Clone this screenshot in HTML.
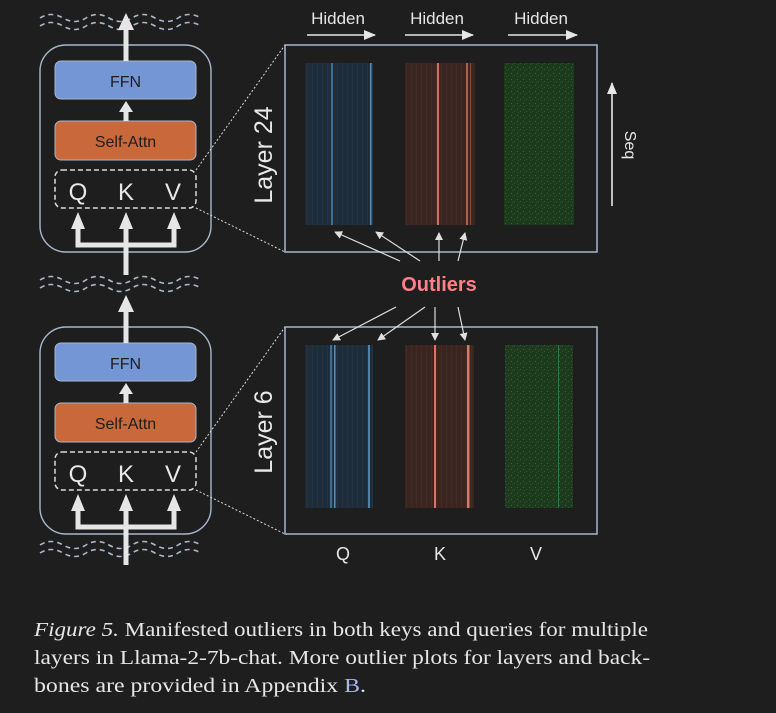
<!DOCTYPE html>
<html><head><meta charset="utf-8"><style>
html,body{margin:0;padding:0;background:#1e1e1e;}
svg{display:block}
.cap{font-family:"Liberation Serif",serif;font-size:20px;fill:#e6e6e6}
</style></head><body>
<svg width="776" height="713" viewBox="0 0 776 713" xmlns="http://www.w3.org/2000/svg" font-family="'Liberation Sans', sans-serif">
<defs>
<marker id="ah" markerWidth="8" markerHeight="8" refX="7" refY="4" orient="auto" markerUnits="userSpaceOnUse"><path d="M0,0 L8,4 L0,8 z" fill="#e0e0e0"/></marker>
<marker id="ah2" markerWidth="12" markerHeight="10" refX="11" refY="5" orient="auto" markerUnits="userSpaceOnUse"><path d="M0,0 L12,5 L0,10 z" fill="#e6e6e6"/></marker>
<pattern id="noiseG" width="6" height="6" patternUnits="userSpaceOnUse"><rect width="6" height="6" fill="#1d3a1f"/><rect x="1" y="1" width="1" height="1" fill="#2f6a33"/><rect x="4" y="3" width="1" height="1" fill="#2a5e2d"/><rect x="2" y="4" width="1" height="1" fill="#255428"/></pattern>
<pattern id="noiseB" width="5" height="7" patternUnits="userSpaceOnUse"><rect width="5" height="7" fill="#1f2d3a"/><rect x="2" y="0" width="1" height="7" fill="#223342"/></pattern>
<pattern id="noiseR" width="5" height="7" patternUnits="userSpaceOnUse"><rect width="5" height="7" fill="#3a2521"/><rect x="1" y="0" width="1" height="7" fill="#432a24"/></pattern>
<g id="wave" fill="none" stroke="#aab8cc" stroke-width="1.6" stroke-dasharray="5,4">
<path d="M40,8 q11,-7 23,0 t23,0 t23,0 t23,0 t23,0 t23,0 t23,0"/>
<path d="M40,16 q11,-7 23,0 t23,0 t23,0 t23,0 t23,0 t23,0 t23,0"/>
</g>
<g id="block">
<rect x="40" y="0" width="171" height="207" rx="26" fill="none" stroke="#a9b7cc" stroke-width="1.4"/>
<rect x="55" y="16" width="141" height="38" rx="6" fill="#7596d4" stroke="#a9b7cc" stroke-width="1"/>
<text x="125.5" y="42" text-anchor="middle" font-size="16" fill="#1e1e1e">FFN</text>
<rect x="55" y="76" width="141" height="39" rx="6" fill="#c8683b" stroke="#a9b7cc" stroke-width="1"/>
<text x="125.5" y="102" text-anchor="middle" font-size="16" fill="#1e1e1e">Self-Attn</text>
<rect x="55" y="125" width="141" height="38" rx="7" fill="none" stroke="#dcdcdc" stroke-width="1.5" stroke-dasharray="5,3"/>
<text x="78" y="155" text-anchor="middle" font-size="24" fill="#e8e8e8">Q</text>
<text x="126" y="155" text-anchor="middle" font-size="24" fill="#e8e8e8">K</text>
<text x="173" y="155" text-anchor="middle" font-size="24" fill="#e8e8e8">V</text>
<path d="M126,76 V65" stroke="#e6e6e6" stroke-width="5" fill="none"/>
<path d="M119,67 L126,56 L133,67 z" fill="#e6e6e6"/>
<path d="M78,183 V200 H174 V183 M126,183 V230" stroke="#e6e6e6" stroke-width="5" fill="none"/>
<path d="M71,184 L78,167 L85,184 z M119,184 L126,167 L133,184 z M167,184 L174,167 L181,184 z" fill="#e6e6e6"/>
</g>
</defs>

<use href="#wave" y="10"/>
<use href="#wave" y="272"/>
<use href="#wave" y="537"/>

<use href="#block" y="45"/>
<use href="#block" y="327"/>
<path d="M126,61 V28" stroke="#e6e6e6" stroke-width="5"/>
<path d="M118,30 L126,13 L134,30 z" fill="#e6e6e6"/>
<path d="M126,343 V310" stroke="#e6e6e6" stroke-width="5"/>
<path d="M118,312 L126,295 L134,312 z" fill="#e6e6e6"/>
<path d="M126,552 V565" stroke="#e6e6e6" stroke-width="5"/>

<g stroke="#dcdcdc" stroke-width="1" stroke-dasharray="2,2" fill="none">
<path d="M196,170 L285,45 M196,208 L285,252"/>
<path d="M196,452 L285,327 M196,490 L285,534"/>
</g>

<rect x="285" y="45" width="312" height="207" fill="none" stroke="#a9b7cc" stroke-width="1.5"/>
<rect x="285" y="327" width="312" height="207" fill="none" stroke="#a9b7cc" stroke-width="1.5"/>

<rect x="305" y="63" width="68" height="162" fill="url(#noiseB)"/>
<rect x="331" y="63" width="2" height="162" fill="#3f6e92"/>
<rect x="370" y="63" width="1.5" height="162" fill="#5b8fb8"/>
<rect x="405" y="63" width="70" height="162" fill="url(#noiseR)"/>
<rect x="437" y="63" width="2" height="162" fill="#c9705f"/>
<rect x="466" y="63" width="2" height="162" fill="#b0624f"/>
<rect x="470" y="63" width="1" height="162" fill="#8a4a3c"/>
<rect x="504" y="63" width="70" height="162" fill="url(#noiseG)"/>

<rect x="305" y="345" width="68" height="163" fill="url(#noiseB)"/>
<rect x="330" y="345" width="2" height="163" fill="#3f6e92"/>
<rect x="334" y="345" width="1.5" height="163" fill="#5b8fb8"/>
<rect x="368" y="345" width="2" height="163" fill="#4f82aa"/>
<rect x="405" y="345" width="69" height="163" fill="url(#noiseR)"/>
<rect x="434" y="345" width="2" height="163" fill="#e0705f"/>
<rect x="467" y="345" width="2.5" height="163" fill="#e07565"/>
<rect x="505" y="345" width="68" height="163" fill="url(#noiseG)"/>
<rect x="558" y="345" width="1" height="163" fill="#2f7a38"/>

<g font-size="17" fill="#e6e6e6" text-anchor="middle">
<text x="338" y="24">Hidden</text>
<text x="437" y="24">Hidden</text>
<text x="541" y="24">Hidden</text>
</g>
<g stroke="#e6e6e6" stroke-width="1.6" marker-end="url(#ah2)">
<path d="M307,35 H375"/><path d="M405,35 H473"/><path d="M508,35 H577"/>
<path d="M612,206 V83"/>
</g>
<text transform="translate(625,145) rotate(90)" text-anchor="middle" font-size="16" fill="#e6e6e6">Seq</text>

<text transform="translate(272,155) rotate(-90)" text-anchor="middle" font-size="25" fill="#e8e8e8">Layer 24</text>
<text transform="translate(272,432) rotate(-90)" text-anchor="middle" font-size="25" fill="#e8e8e8">Layer 6</text>

<text x="439" y="291" text-anchor="middle" font-size="20" font-weight="bold" fill="#ff7f8a">Outliers</text>
<g stroke="#dddddd" stroke-width="1.2" marker-end="url(#ah)">
<path d="M400,261 L335,232"/><path d="M420,261 L376,232"/>
<path d="M439,261 L439,233"/><path d="M458,261 L465,233"/>
<path d="M396,307 L333,340"/><path d="M425,307 L378,340"/>
<path d="M435,307 L435,340"/><path d="M458,307 L465,340"/>
</g>

<g font-size="18" fill="#e6e6e6" text-anchor="middle">
<text x="343" y="560">Q</text><text x="440" y="560">K</text><text x="536" y="560">V</text>
</g>

<text class="cap" x="34" y="636" textLength="614" lengthAdjust="spacingAndGlyphs"><tspan font-style="italic">Figure 5.</tspan> Manifested outliers in both keys and queries for multiple</text>
<text class="cap" x="34" y="664" textLength="616" lengthAdjust="spacingAndGlyphs">layers in Llama-2-7b-chat. More outlier plots for layers and back-</text>
<text class="cap" x="34" y="692" textLength="332" lengthAdjust="spacingAndGlyphs">bones are provided in Appendix <tspan fill="#a9b6f0">B</tspan>.</text>
</svg>
</body></html>
